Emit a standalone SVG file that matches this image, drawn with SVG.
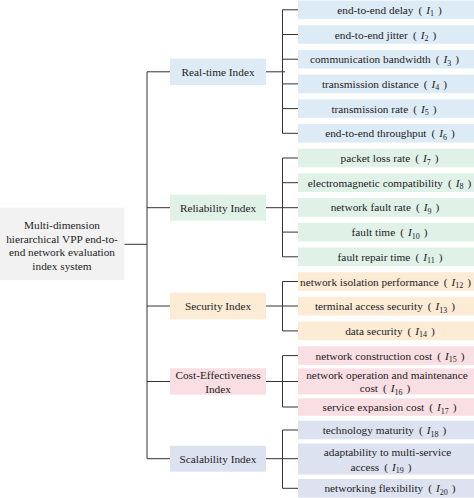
<svg xmlns="http://www.w3.org/2000/svg" width="474" height="498" viewBox="0 0 474 498">
<style>
text { font-family: "Liberation Serif", "Times New Roman", serif; font-size: 11.3px; fill: #222; text-anchor: middle; }
.i { font-style: italic; }
.s { font-size: 8px; }
.ln { stroke: #333; stroke-width: 1; fill: none; }
.root { fill: #F2F2F2; }
.rt { fill: #DDEBF7; }
.rl { fill: #E0F1E8; }
.se { fill: #FCEBD5; }
.co { fill: #F9DEE3; }
.sc { fill: #DDE2F0; }
</style>
<g id="connectors">
<path class="ln" d="M124.3,244.3H147 M147,71.8V458.7 M147,71.8H170 M147,207.7H170 M147,306H170 M147,381.5H170 M147,458.7H170"/>
<path class="ln" d="M266,71.8H285 M282.5,9.8V133.3 M282.5,9.8H298 M282.5,34.5H298 M282.5,59.2H298 M282.5,83.9H298 M282.5,108.6H298 M282.5,133.3H298"/>
<path class="ln" d="M266,207.7H298 M282.5,158V256.8 M282.5,158H298 M282.5,182.7H298 M282.5,232.1H298 M282.5,256.8H298"/>
<path class="ln" d="M266,306H298 M282.5,281.5V330.9 M282.5,281.5H298 M282.5,330.9H298"/>
<path class="ln" d="M266,381.5H298 M282.5,355.6V407 M282.5,355.6H298 M282.5,407H298"/>
<path class="ln" d="M266,458.7H298 M282.5,430V488.3 M282.5,430H298 M282.5,488.3H298"/>
</g>
<g id="root">
<rect class="root" x="0" y="207.7" width="124.3" height="72.5"/>
<text x="62" y="229">Multi-dimension</text>
<text x="62" y="242.5">hierarchical VPP end-to-</text>
<text x="62" y="256">end network evaluation</text>
<text x="62" y="269.5">index system</text>
</g>
<g id="cat-realtime"><rect class="rt" x="170" y="58.7" width="96" height="26.3"/><text x="218" y="75.8">Real-time Index</text></g>
<g id="cat-reliability"><rect class="rl" x="170" y="194.7" width="96" height="26"/><text x="218" y="211.7">Reliability Index</text></g>
<g id="cat-security"><rect class="se" x="170" y="292.7" width="96" height="26.6"/><text x="218" y="310">Security Index</text></g>
<g id="cat-cost"><rect class="co" x="170" y="368.3" width="96" height="26.4"/><text x="218" y="379">Cost-Effectiveness</text><text x="218" y="392.5">Index</text></g>
<g id="cat-scalability"><rect class="sc" x="170" y="445.7" width="96" height="26"/><text x="218" y="462.7">Scalability Index</text></g>

<g id="leaf1"><rect class="rt" x="298" y="0.5" width="176" height="18.6"/><text x="389.5" y="13.8">end-to-end delay<tspan dx="5">(</tspan><tspan class="i" dx="4">I</tspan><tspan class="s" dy="2.5">1</tspan><tspan dy="-2.5" dx="4">)</tspan></text></g>
<g id="leaf2"><rect class="rt" x="298" y="25.2" width="176" height="18.6"/><text x="385.5" y="38.5">end-to-end jitter<tspan dx="5">(</tspan><tspan class="i" dx="4">I</tspan><tspan class="s" dy="2.5">2</tspan><tspan dy="-2.5" dx="4">)</tspan></text></g>
<g id="leaf3"><rect class="rt" x="298" y="49.9" width="176" height="18.6"/><text x="384.5" y="63.2">communication bandwidth<tspan dx="5">(</tspan><tspan class="i" dx="4">I</tspan><tspan class="s" dy="2.5">3</tspan><tspan dy="-2.5" dx="4">)</tspan></text></g>
<g id="leaf4"><rect class="rt" x="298" y="74.6" width="176" height="18.6"/><text x="384.5" y="87.9">transmission distance<tspan dx="5">(</tspan><tspan class="i" dx="4">I</tspan><tspan class="s" dy="2.5">4</tspan><tspan dy="-2.5" dx="4">)</tspan></text></g>
<g id="leaf5"><rect class="rt" x="298" y="99.3" width="176" height="18.6"/><text x="384" y="112.6">transmission rate<tspan dx="5">(</tspan><tspan class="i" dx="4">I</tspan><tspan class="s" dy="2.5">5</tspan><tspan dy="-2.5" dx="4">)</tspan></text></g>
<g id="leaf6"><rect class="rt" x="298" y="124" width="176" height="18.6"/><text x="390" y="137.3">end-to-end throughput<tspan dx="5">(</tspan><tspan class="i" dx="4">I</tspan><tspan class="s" dy="2.5">6</tspan><tspan dy="-2.5" dx="4">)</tspan></text></g>

<g id="leaf7"><rect class="rl" x="298" y="148.7" width="176" height="18.6"/><text x="389.5" y="162">packet loss rate<tspan dx="5">(</tspan><tspan class="i" dx="4">I</tspan><tspan class="s" dy="2.5">7</tspan><tspan dy="-2.5" dx="4">)</tspan></text></g>
<g id="leaf8"><rect class="rl" x="298" y="173.4" width="176" height="18.6"/><text x="389.5" y="186.7">electromagnetic compatibility<tspan dx="5">(</tspan><tspan class="i" dx="4">I</tspan><tspan class="s" dy="2.5">8</tspan><tspan dy="-2.5" dx="4">)</tspan></text></g>
<g id="leaf9"><rect class="rl" x="298" y="198.1" width="176" height="18.6"/><text x="385" y="211.4">network fault rate<tspan dx="5">(</tspan><tspan class="i" dx="4">I</tspan><tspan class="s" dy="2.5">9</tspan><tspan dy="-2.5" dx="4">)</tspan></text></g>
<g id="leaf10"><rect class="rl" x="298" y="222.8" width="176" height="18.6"/><text x="389.5" y="236.1">fault time<tspan dx="5">(</tspan><tspan class="i" dx="4">I</tspan><tspan class="s" dy="2.5">10</tspan><tspan dy="-2.5" dx="4">)</tspan></text></g>
<g id="leaf11"><rect class="rl" x="298" y="247.5" width="176" height="18.6"/><text x="390" y="260.8">fault repair time<tspan dx="5">(</tspan><tspan class="i" dx="4">I</tspan><tspan class="s" dy="2.5">11</tspan><tspan dy="-2.5" dx="4">)</tspan></text></g>

<g id="leaf12"><rect class="se" x="298" y="272.2" width="176" height="18.6"/><text x="385.5" y="285.5">network isolation performance<tspan dx="5">(</tspan><tspan class="i" dx="4">I</tspan><tspan class="s" dy="2.5">12</tspan><tspan dy="-2.5" dx="4">)</tspan></text></g>
<g id="leaf13"><rect class="se" x="298" y="296.9" width="176" height="18.6"/><text x="385" y="310.2">terminal access security<tspan dx="5">(</tspan><tspan class="i" dx="4">I</tspan><tspan class="s" dy="2.5">13</tspan><tspan dy="-2.5" dx="4">)</tspan></text></g>
<g id="leaf14"><rect class="se" x="298" y="321.6" width="176" height="18.6"/><text x="390" y="334.9">data security<tspan dx="5">(</tspan><tspan class="i" dx="4">I</tspan><tspan class="s" dy="2.5">14</tspan><tspan dy="-2.5" dx="4">)</tspan></text></g>

<g id="leaf15"><rect class="co" x="298" y="346.3" width="176" height="18.6"/><text x="390" y="359.6">network construction cost<tspan dx="5">(</tspan><tspan class="i" dx="4">I</tspan><tspan class="s" dy="2.5">15</tspan><tspan dy="-2.5" dx="4">)</tspan></text></g>
<g id="leaf16"><rect class="co" x="298" y="368.5" width="176" height="26"/><text x="387" y="378.7">network operation and maintenance</text><text x="385" y="392.2">cost<tspan dx="5">(</tspan><tspan class="i" dx="4">I</tspan><tspan class="s" dy="2.5">16</tspan><tspan dy="-2.5" dx="4">)</tspan></text></g>
<g id="leaf17"><rect class="co" x="298" y="398.3" width="176" height="17.5"/><text x="389.5" y="411">service expansion cost<tspan dx="5">(</tspan><tspan class="i" dx="4">I</tspan><tspan class="s" dy="2.5">17</tspan><tspan dy="-2.5" dx="4">)</tspan></text></g>

<g id="leaf18"><rect class="sc" x="298" y="420.7" width="176" height="18.6"/><text x="384.5" y="434">technology maturity<tspan dx="5">(</tspan><tspan class="i" dx="4">I</tspan><tspan class="s" dy="2.5">18</tspan><tspan dy="-2.5" dx="4">)</tspan></text></g>
<g id="leaf19"><rect class="sc" x="298" y="443.5" width="176" height="31"/><text x="387.5" y="456">adaptability to multi-service</text><text x="381" y="470.5">access<tspan dx="5">(</tspan><tspan class="i" dx="4">I</tspan><tspan class="s" dy="2.5">19</tspan><tspan dy="-2.5" dx="4">)</tspan></text></g>
<g id="leaf20"><rect class="sc" x="298" y="479" width="176" height="18.6"/><text x="390" y="492.3">networking flexibility<tspan dx="5">(</tspan><tspan class="i" dx="4">I</tspan><tspan class="s" dy="2.5">20</tspan><tspan dy="-2.5" dx="4">)</tspan></text></g>
</svg>
